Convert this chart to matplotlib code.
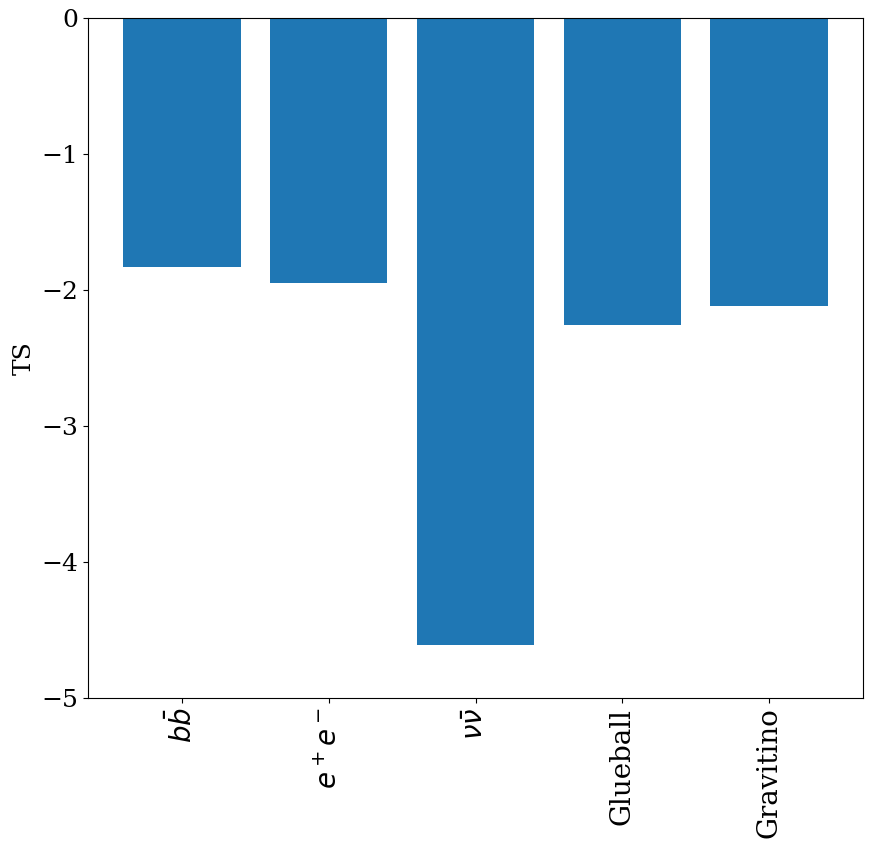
import numpy as np
import matplotlib.pyplot as plt

plt.rcParams['font.family'] = 'DejaVu Serif'
plt.rcParams['font.size'] = 18

channels = [r'$b\bar{b}$', r'$e^+e^-$', r'$\nu\bar{\nu}$', 'Glueball', 'Gravitino']
ts = [-1.83, -1.95, -4.61, -2.26, -2.12]

fig, ax = plt.subplots(figsize=(8.79, 8.5), dpi=100)
ax.bar(np.arange(len(channels)), ts, color='#1f77b4')
ax.set_xticks(np.arange(len(channels)))
ax.set_xticklabels(channels, rotation=90, fontsize=20)
ax.set_ylim(-5, 0)
ax.set_ylabel('TS')
fig.subplots_adjust(left=0.1, right=0.982, top=0.979, bottom=0.179)
fig.savefig('out.png')
